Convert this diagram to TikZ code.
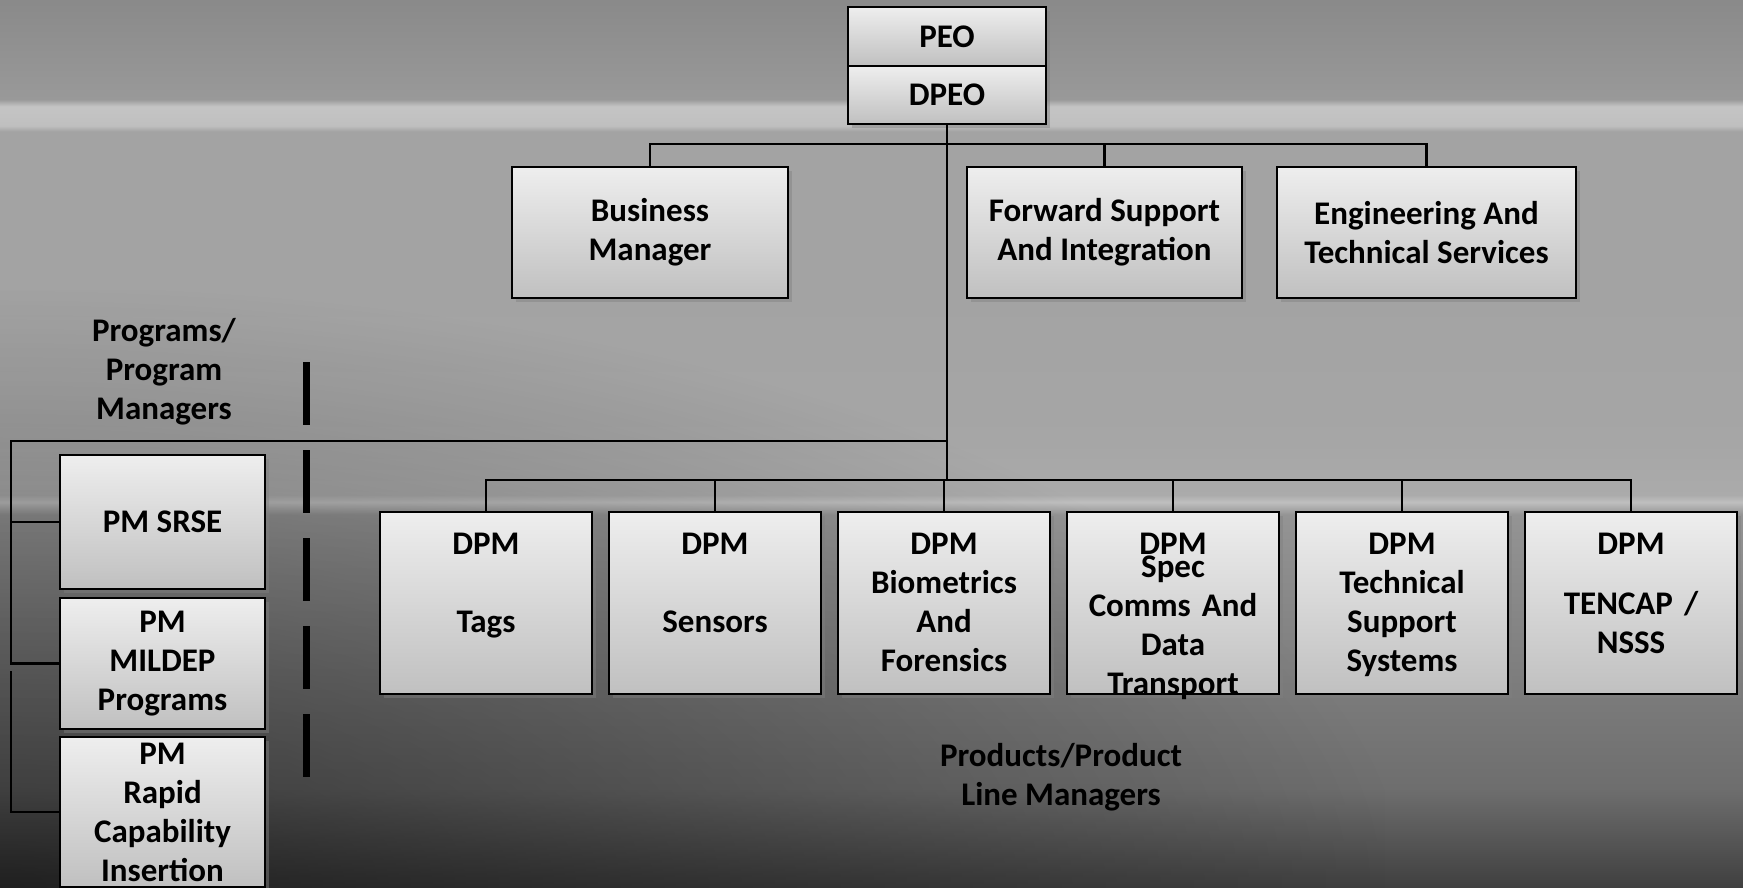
\documentclass[tikz,border=0pt]{standalone}
\usepackage{fontspec}
\setmainfont{Carlito}
\usetikzlibrary{positioning,shadows,fadings}

\definecolor{boxtop}{HTML}{EEEEEE}
\definecolor{boxbot}{HTML}{C0C0C0}
% backdrop, bottom to top (picture spans 25bp..75bp)
\pgfdeclareverticalshading{backdrop}{100bp}{%
  color(0bp)=(black!75); color(25bp)=(black!75); color(30.5bp)=(black!57);
  color(46bp)=(black!42); color(46.7bp)=(black!25); color(47.1bp)=(black!33);
  color(50.2bp)=(black!35); color(58.1bp)=(black!36); color(67.6bp)=(black!36);
  color(67.9bp)=(black!25); color(69bp)=(black!23); color(69.4bp)=(black!40);
  color(75bp)=(black!46); color(100bp)=(black!46)}
\tikzfading[name=corner fade, inner color=transparent!0, outer color=transparent!100]

\begin{document}
\begin{tikzpicture}[x=1pt,y=-1pt,
    every node/.style={font=\fontsize{33}{39}\selectfont\bfseries, align=center},
    orgbox/.style={draw=black, line width=2pt, top color=boxtop, bottom color=boxbot,
        drop shadow={shadow xshift=4pt, shadow yshift=-4pt, opacity=0.45},
        inner sep=0pt},
    upperbox/.style={orgbox, minimum height=131pt},
    dpmbox/.style={orgbox, text width=200pt, inner xsep=6pt,
        text height=42pt, text depth=140pt},
    pmbox/.style={orgbox, minimum width=205pt},
    link/.style={line width=2.5pt}]

\useasboundingbox (0,0) rectangle (1743,887);
\clip (0,0) rectangle (1743,887);
\shade[shading=backdrop] (0,0) rectangle (1743,887);
\fill[black, opacity=0.5, path fading=corner fade] (-1400,287) rectangle (1400,1487);

% head
\node[orgbox, minimum width=198pt, minimum height=59pt] (peo) at (947,36.5) {PEO};
\node[orgbox, minimum width=198pt, minimum height=58pt, below=-2pt of peo] (dpeo) {DPEO};

% staff
\node[upperbox, minimum width=276pt] (bizmgr) at (650,232.5) {Business\\Manager};
\node[upperbox, minimum width=275pt] (fwdsup) at (1104.5,232.5) {Forward Support\\And Integration};
\node[upperbox, minimum width=299pt] (engtech) at (1426.5,232.5) {Engineering And\\Technical Services};

% program managers
\node (proglbl) at (164,372) {Programs/\\Program\\Managers};
\node[pmbox, minimum height=134pt] (srse) at (162.5,522) {PM SRSE};
\node[pmbox, minimum height=131pt] (mildep) at (162.5,663.5) {PM\\MILDEP\\Programs};
\node[pmbox, minimum height=150pt] (rapid) at (162.5,812) {PM\\Rapid\\Capability\\Insertion};

% product line managers
\node[dpmbox] (tags) at (486,603) {DPM\\[39pt]Tags};
\node[dpmbox, right=15pt of tags] (sensors) {DPM\\[39pt]Sensors};
\node[dpmbox, right=15pt of sensors] (biomet) {DPM\\Biometrics\\And\\Forensics};
\node[dpmbox, right=15pt of biomet] (speccomms) {DPM\\[-16pt]Spec\\Comms And\\Data\\Transport};
\node[dpmbox, right=15pt of speccomms] (techsup) {DPM\\Technical\\Support\\Systems};
\node[dpmbox, right=15pt of techsup] (tencap) {DPM\\[21pt]TENCAP /\\NSSS};
\node (prodlbl) at (1061,777) {Products/Product\\Line Managers};

\coordinate (topbus) at (947,144);
\coordinate (pmbus) at (11,441);
\coordinate (dpmbus) at (947,480);
\coordinate (rapidtop) at (11,671);

\draw[link] (dpeo.south) -- (dpmbus);
\draw[link] (bizmgr.north) |- (topbus) -| (engtech.north);
\draw[link] (fwdsup.north) -- (fwdsup.north |- topbus);
\draw[link] (pmbus -| dpeo.south) -- (pmbus) |- (srse.west);
\draw[link] (pmbus) |- (mildep.west);
\draw[link] (rapidtop) |- (rapid.west);
\draw[link] (tags.north) |- (dpmbus) -| (tencap.north);
\foreach \n in {sensors,biomet,speccomms,techsup}
  \draw[link] (\n.north) -- (\n.north |- dpmbus);

% divider
\draw[line width=7pt, dash pattern=on 63pt off 25pt] (306,362) -- (306,778);
\end{tikzpicture}
\end{document}
